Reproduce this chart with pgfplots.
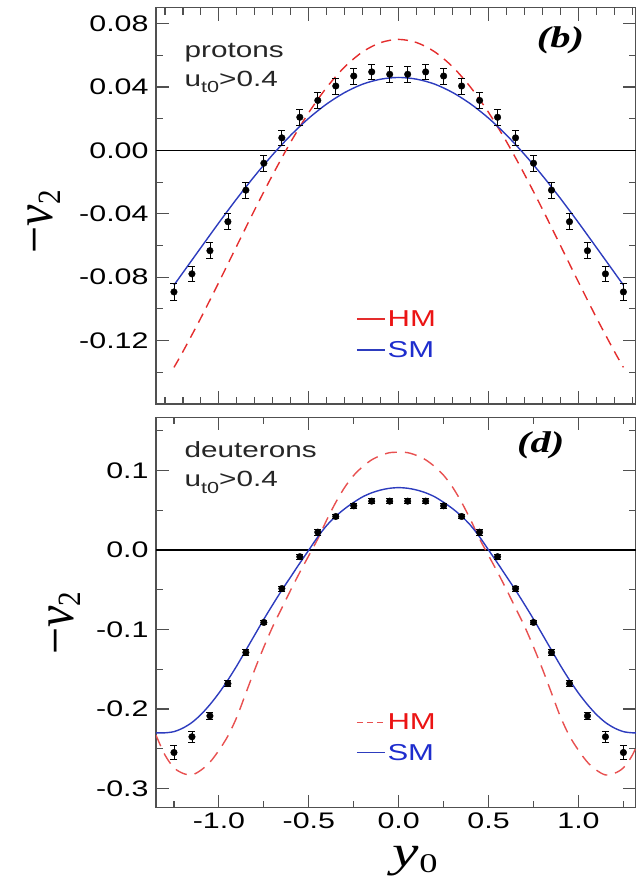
\documentclass[border=0pt]{standalone}
\usepackage{pgfplots}
\pgfplotsset{compat=1.18}
\usepackage{pgfplotstable}
\usepackage{fontspec}
\setmainfont{Liberation Sans}[FakeStretch=1.35]
\newfontfamily\lserif{Liberation Serif}[FakeStretch=1.35]
\newfontfamily\lserifrot{Liberation Serif}
\definecolor{smblue}{RGB}{45,60,190}
\definecolor{hmred}{RGB}{228,45,45}
\definecolor{hmredlt}{RGB}{232,80,80}
\definecolor{legred}{RGB}{235,20,20}
\definecolor{legblue}{RGB}{30,45,205}
\definecolor{framegray}{RGB}{80,80,80}
\newcommand\tickfont{\fontsize{22.5bp}{26bp}\selectfont}
\newcommand\annfont{\fontsize{22bp}{26bp}\selectfont}

% protons data: x, -v2, error
\pgfplotstableread{
x y e
-1.25 -0.0893 0.0053
-1.15 -0.0779 0.0050
-1.05 -0.0633 0.0050
-0.95 -0.0450 0.0050
-0.85 -0.0251 0.0050
-0.75 -0.0081 0.0050
-0.65  0.0079 0.0050
-0.55  0.0209 0.0050
-0.45  0.0315 0.0050
-0.35  0.0406 0.0050
-0.25  0.0469 0.0050
-0.15  0.0495 0.0050
-0.05  0.0480 0.0050
 0.05  0.0480 0.0050
 0.15  0.0495 0.0050
 0.25  0.0469 0.0050
 0.35  0.0406 0.0050
 0.45  0.0315 0.0050
 0.55  0.0209 0.0050
 0.65  0.0079 0.0050
 0.75 -0.0081 0.0050
 0.85 -0.0251 0.0050
 0.95 -0.0450 0.0050
 1.05 -0.0633 0.0050
 1.15 -0.0779 0.0050
 1.25 -0.0893 0.0053
}\protdata

\pgfplotstableread{
x y
-1.25 -0.0850
-1.20 -0.0771
-1.10 -0.0613
-1.00 -0.0456
-0.90 -0.0304
-0.80 -0.0160
-0.70 -0.0026
-0.60  0.0096
-0.50  0.0203
-0.40  0.0293
-0.30  0.0365
-0.20  0.0418
-0.10  0.0449
 0.00  0.0460
 0.10  0.0449
 0.20  0.0418
 0.30  0.0365
 0.40  0.0293
 0.50  0.0203
 0.60  0.0096
 0.70 -0.0026
 0.80 -0.0160
 0.90 -0.0304
 1.00 -0.0456
 1.10 -0.0613
 1.20 -0.0771
 1.25 -0.0850
}\protsm

\pgfplotstableread{
x y
-1.25 -0.1369
-1.20 -0.1269
-1.10 -0.1056
-1.00 -0.0831
-0.90 -0.0601
-0.80 -0.0372
-0.70 -0.0152
-0.60  0.0054
-0.50  0.0239
-0.40  0.0398
-0.30  0.0527
-0.20  0.0622
-0.10  0.0680
 0.00  0.0700
 0.10  0.0680
 0.20  0.0622
 0.30  0.0527
 0.40  0.0398
 0.50  0.0239
 0.60  0.0054
 0.70 -0.0152
 0.80 -0.0372
 0.90 -0.0601
 1.00 -0.0831
 1.10 -0.1056
 1.20 -0.1269
 1.25 -0.1369
}\prothm

% deuterons data
\pgfplotstableread{
x y e
-1.25 -0.2548 0.0084
-1.15 -0.2350 0.0065
-1.05 -0.2087 0.0045
-0.95 -0.1680 0.0040
-0.85 -0.1289 0.0035
-0.75 -0.0911 0.0030
-0.65 -0.0485 0.0030
-0.55 -0.0084 0.0030
-0.45  0.0225 0.0040
-0.35  0.0422 0.0030
-0.25  0.0556 0.0030
-0.15  0.0615 0.0030
-0.05  0.0615 0.0030
 0.05  0.0615 0.0030
 0.15  0.0615 0.0030
 0.25  0.0556 0.0030
 0.35  0.0422 0.0030
 0.45  0.0225 0.0040
 0.55 -0.0084 0.0030
 0.65 -0.0485 0.0030
 0.75 -0.0911 0.0030
 0.85 -0.1289 0.0035
 0.95 -0.1680 0.0040
 1.05 -0.2087 0.0045
 1.15 -0.2350 0.0065
 1.25 -0.2548 0.0084
}\deutdata

\pgfplotstableread{
x y
-1.35 -0.2300
-1.30 -0.2300
-1.25 -0.2285
-1.20 -0.2240
-1.15 -0.2170
-1.10 -0.2070
-1.05 -0.1945
-1.00 -0.1800
-0.95 -0.1635
-0.90 -0.1455
-0.85 -0.1260
-0.80 -0.1065
-0.75 -0.0870
-0.70 -0.0685
-0.65 -0.0505
-0.60 -0.0335
-0.55 -0.0165
-0.50  0.0000
-0.45  0.0165
-0.40  0.0310
-0.35  0.0425
-0.30  0.0520
-0.25  0.0600
-0.20  0.0670
-0.15  0.0720
-0.10  0.0755
-0.05  0.0777
 0.00  0.0785
 0.05  0.0777
 0.10  0.0755
 0.15  0.0720
 0.20  0.0670
 0.25  0.0600
 0.30  0.0520
 0.35  0.0425
 0.40  0.0310
 0.45  0.0165
 0.50  0.0000
 0.55 -0.0165
 0.60 -0.0335
 0.65 -0.0505
 0.70 -0.0685
 0.75 -0.0870
 0.80 -0.1065
 0.85 -0.1260
 0.90 -0.1455
 0.95 -0.1635
 1.00 -0.1800
 1.05 -0.1945
 1.10 -0.2070
 1.15 -0.2170
 1.20 -0.2240
 1.25 -0.2285
 1.30 -0.2300
 1.35 -0.2300
}\deutsm

\pgfplotstableread{
x y
-1.35 -0.2330
-1.30 -0.2580
-1.25 -0.2740
-1.20 -0.2810
-1.15 -0.2830
-1.10 -0.2770
-1.05 -0.2670
-1.00 -0.2520
-0.95 -0.2340
-0.90 -0.2100
-0.85 -0.1800
-0.80 -0.1500
-0.75 -0.1220
-0.70 -0.0960
-0.65 -0.0730
-0.60 -0.0500
-0.55 -0.0280
-0.50 -0.0070
-0.45  0.0140
-0.40  0.0380
-0.35  0.0600
-0.30  0.0790
-0.25  0.0940
-0.20  0.1050
-0.15  0.1135
-0.10  0.1190
-0.05  0.1225
 0.00  0.1230
 0.05  0.1225
 0.10  0.1190
 0.15  0.1135
 0.20  0.1050
 0.25  0.0940
 0.30  0.0790
 0.35  0.0600
 0.40  0.0380
 0.45  0.0140
 0.50 -0.0070
 0.55 -0.0280
 0.60 -0.0500
 0.65 -0.0730
 0.70 -0.0960
 0.75 -0.1220
 0.80 -0.1500
 0.85 -0.1800
 0.90 -0.2100
 0.95 -0.2340
 1.00 -0.2520
 1.05 -0.2670
 1.10 -0.2770
 1.15 -0.2830
 1.20 -0.2810
 1.25 -0.2740
 1.30 -0.2580
 1.35 -0.2330
}\deuthm

\pgfplotsset{
  panel/.style={
    scale only axis, width=480bp,
    xmin=-1.35, xmax=1.32,
    axis line style={framegray, line width=1.1bp},
    every tick/.style={framegray, line width=1.1bp},
    major tick length=13bp, minor tick length=7bp,
    xtick={-1,-0.5,0,0.5,1},
    tick label style={font=\tickfont},
    yticklabel style={xshift=-4bp},
    legend cell align=left,
  },
  datastyle/.style={black, only marks, mark=*, mark size=3.3bp,
    error bars/.cd, y dir=both, y explicit,
    error bar style={black, line width=0.8bp},
    error mark options={rotate=90, mark size=3.5bp, black, line width=0.8bp}},
}

\begin{document}
\begin{tikzpicture}
\useasboundingbox (0bp,0bp) rectangle (636bp,-881bp);

% ---------- top panel (protons) ----------
\begin{axis}[panel,
  at={(156bp,-7.7bp)}, anchor=north west, height=396.3bp,
  ymin=-0.16, ymax=0.09,
  ytick={-0.12,-0.08,-0.04,0,0.04,0.08},
  yticklabels={-0.12,-0.08,-0.04,0.00,0.04,0.08},
  minor ytick={-0.14,-0.10,-0.06,-0.02,0.02,0.06},
  minor xtick={-1.3,-1.2,-1.1,-0.9,-0.8,-0.7,-0.6,-0.4,-0.3,-0.2,-0.1,0.1,0.2,0.3,0.4,0.6,0.7,0.8,0.9,1.1,1.2,1.3},
  xticklabels={},
  ylabel={\scalebox{1}[1.12]{\lserifrot\fontsize{48bp}{48bp}\selectfont −\textit{v}\raisebox{-0.3ex}{\fontsize{29bp}{29bp}\selectfont 2}}},
  ylabel style={at={(axis description cs:-0.233,0.46)}, anchor=center, rotate=0},
  legend style={at={(axis cs:-0.255,-0.1165)}, anchor=west, draw=none, fill=none,
    font=\fontsize{23bp}{26bp}\selectfont, row sep=9bp},
]
\addlegendimage{legend image code/.code={\draw[draw=hmred, line width=1.7bp] (0bp,0.6bp) -- (28bp,0.6bp);}}
\addlegendimage{legend image code/.code={\draw[draw=smblue, line width=1.5bp] (0bp,0bp) -- (28bp,0bp);}}
\addplot[black, line width=1.1bp, forget plot] coordinates {(-1.35,0) (1.32,0)};
\addplot[hmred, line width=1.4bp, dash pattern=on 10bp off 7bp, smooth, forget plot] table[x=x,y=y] {\prothm};
\addplot[smblue, line width=1.4bp, smooth, forget plot] table[x=x,y=y] {\protsm};
\addplot[forget plot, datastyle] table[x=x,y=y,y error=e] {\protdata};
\legend{\textcolor{legred}{HM},\textcolor{legblue}{SM}}
\node[anchor=base west, font=\annfont, text=black!85] at (axis cs:-1.21,0.0588) {protons};
\node[anchor=base west, font=\annfont, text=black!85] at (axis cs:-1.21,0.0404) {u\raisebox{-0.3em}{\fontsize{16bp}{16bp}\selectfont t0}>0.4};
\node[anchor=center, font=\lserif\bfseries\itshape\fontsize{30bp}{30bp}\selectfont] at (axis cs:0.90,0.0695) {(b)};
\end{axis}

% ---------- bottom panel (deuterons) ----------
\begin{axis}[panel,
  at={(156bp,-417.3bp)}, anchor=north west, height=390.2bp,
  ymin=-0.324, ymax=0.167,
  ytick={-0.3,-0.2,-0.1,0,0.1},
  yticklabels={-0.3,-0.2,-0.1,0.0,0.1},
  minor ytick={-0.25,-0.15,-0.05,0.05,0.15},
  minor xtick={-1.25,-0.75,-0.25,0.25,0.75,1.25},
  xticklabels={-1.0,-0.5,0.0,0.5,1.0},
  xticklabel style={yshift=-2bp},
  ylabel={\scalebox{1}[1.12]{\lserifrot\fontsize{48bp}{48bp}\selectfont −\textit{v}\raisebox{-0.3ex}{\fontsize{29bp}{29bp}\selectfont 2}}},
  ylabel style={at={(axis description cs:-0.19,0.473)}, anchor=center, rotate=0},
  xlabel={\lserif\fontsize{44bp}{44bp}\selectfont\textit{y}\raisebox{-0.3ex}{\fontsize{27bp}{27bp}\selectfont 0}},
  xlabel style={at={(axis description cs:0.54,-0.152)}, anchor=base},
  legend style={at={(axis cs:-0.255,-0.236)}, anchor=west, draw=none, fill=none,
    font=\fontsize{23bp}{26bp}\selectfont, row sep=9bp},
]
\addlegendimage{legend image code/.code={\draw[draw=hmredlt, line width=1.5bp, dash pattern=on 6bp off 4bp] (0bp,0bp) -- (28bp,0bp);}}
\addlegendimage{legend image code/.code={\draw[draw=smblue, line width=1.5bp] (0bp,0bp) -- (28bp,0bp);}}
\addplot[black, line width=1.1bp, forget plot] coordinates {(-1.35,0) (1.32,0)};
\addplot[hmredlt, line width=1.4bp, dash pattern=on 12bp off 8bp, smooth, forget plot] table[x=x,y=y] {\deuthm};
\addplot[smblue, line width=1.4bp, smooth, forget plot] table[x=x,y=y] {\deutsm};
\addplot[forget plot, datastyle] table[x=x,y=y,y error=e] {\deutdata};
\legend{\textcolor{legred}{HM},\textcolor{legblue}{SM}}
\node[anchor=base west, font=\annfont, text=black!85] at (axis cs:-1.21,0.117) {deuterons};
\node[anchor=base west, font=\annfont, text=black!85] at (axis cs:-1.21,0.0797) {u\raisebox{-0.3em}{\fontsize{16bp}{16bp}\selectfont t0}>0.4};
\node[anchor=center, font=\lserif\bfseries\itshape\fontsize{30bp}{30bp}\selectfont] at (axis cs:0.79,0.132) {(d)};
\end{axis}
\end{tikzpicture}
\end{document}
